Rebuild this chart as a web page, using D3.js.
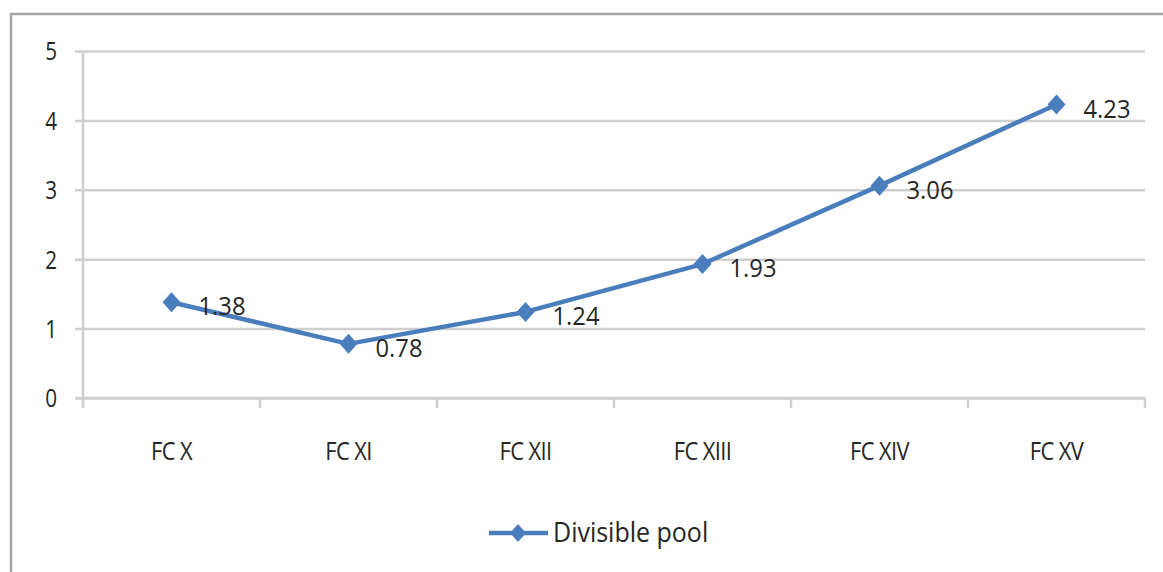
<!DOCTYPE html>
<html>
<head>
<meta charset="utf-8">
<script src="https://cdn.jsdelivr.net/npm/d3@7"></script>
<style>
  html, body { margin: 0; padding: 0; background: #fff; }
  svg { display: block; }
  text { font-family: "Open Sans", "Liberation Sans", sans-serif; fill: #262626; }
</style>
</head>
<body>
<svg id="chart" width="1163" height="572"></svg>
<script>
// Finance Commission divisible pool share
const categories = ["FC X", "FC XI", "FC XII", "FC XIII", "FC XIV", "FC XV"];
const divisiblePool = [1.38, 0.78, 1.24, 1.93, 3.06, 4.23];
const yTicks = [0, 1, 2, 3, 4, 5];
const seriesName = "Divisible pool";

const W = 1163, H = 572;
const plot = { left: 83, right: 1145, top: 51, bottom: 398 };
const lineColor = "#4a7dbc";
const gridColor = "#cfcfcf";

const svg = d3.select("#chart");

// outer chart frame (top and left edges show)
svg.append("path")
  .attr("d", `M11,${H} L11,14 L${W},14`)
  .attr("fill", "none")
  .attr("stroke", "#a6a6a6")
  .attr("stroke-width", 2.5);

const x = d3.scaleBand().domain(categories).range([plot.left, plot.right]).padding(0);
const y = d3.scaleLinear().domain([0, 5]).range([plot.bottom, plot.top]);

// horizontal gridlines with outward ticks
const yAxis = d3.axisLeft(y)
  .tickValues(yTicks)
  .tickSize(-(plot.right - plot.left))
  .tickSizeOuter(0)
  .tickFormat(d3.format("d"));

const gy = svg.append("g").attr("transform", `translate(${plot.left},0)`).call(yAxis);
gy.select(".domain").remove();
gy.selectAll(".tick line")
  .attr("x1", -8)
  .attr("stroke", gridColor)
  .attr("stroke-width", 2.5);
gy.selectAll(".tick text")
  .attr("font-size", 23)
  .attr("fill", "#262626")
  .attr("x", null)
  .attr("dy", "0.35em")
  .attr("text-anchor", "end")
  .attr("transform", "translate(-26,0) scale(0.9,1.1)");

// vertical value axis line
svg.append("line")
  .attr("x1", plot.left).attr("x2", plot.left)
  .attr("y1", plot.top).attr("y2", plot.bottom + 10)
  .attr("stroke", gridColor).attr("stroke-width", 2.5);

// category axis with ticks on the band boundaries
const boundaries = categories.map(c => x(c)).concat([plot.right]);
const gx = svg.append("g");
gx.append("line")
  .attr("x1", plot.left - 8).attr("x2", plot.right)
  .attr("y1", plot.bottom).attr("y2", plot.bottom)
  .attr("stroke", gridColor).attr("stroke-width", 2.5);
gx.selectAll("line.tk").data(boundaries).join("line")
  .attr("class", "tk")
  .attr("x1", d => d).attr("x2", d => d)
  .attr("y1", plot.bottom).attr("y2", plot.bottom + 10)
  .attr("stroke", gridColor).attr("stroke-width", 2.5);
gx.selectAll("text").data(categories).join("text")
  .attr("transform", d => `translate(${x(d) + x.bandwidth() / 2},${plot.bottom + 53}) scale(0.95,1.12)`)
  .attr("text-anchor", "middle")
  .attr("dy", "0.35em")
  .attr("font-size", 23)
  .attr("letter-spacing", -0.6)
  .text(d => d);

// series line
const pts = categories.map((c, i) => ({ c, v: divisiblePool[i] }));
const line = d3.line().x(d => x(d.c) + x.bandwidth() / 2).y(d => y(d.v));
svg.append("path")
  .datum(pts)
  .attr("d", line)
  .attr("fill", "none")
  .attr("stroke", lineColor)
  .attr("stroke-width", 4.5)
  .attr("stroke-linejoin", "round");

// diamond markers
const diamond = (cx, cy, rx, ry) => `M${cx},${cy - ry} L${cx + rx},${cy} L${cx},${cy + ry} L${cx - rx},${cy} Z`;
svg.selectAll("path.mk").data(pts).join("path")
  .attr("class", "mk")
  .attr("d", d => diamond(x(d.c) + x.bandwidth() / 2, y(d.v), 9, 10))
  .attr("fill", lineColor);

// value labels
svg.selectAll("text.val").data(pts).join("text")
  .attr("class", "val")
  .attr("transform", d => `translate(${x(d.c) + x.bandwidth() / 2 + 27},${y(d.v) + 4}) scale(0.95,1.05)`)
  .attr("dy", "0.35em")
  .attr("font-size", 25)
  .text(d => d.v.toFixed(2));

// legend
const lg = svg.append("g").attr("transform", "translate(489,533)");
lg.append("line").attr("x1", 0).attr("x2", 59).attr("y1", 0).attr("y2", 0)
  .attr("stroke", lineColor).attr("stroke-width", 4.5);
lg.append("path").attr("d", diamond(29, 0, 8, 9)).attr("fill", lineColor);
lg.append("text")
  .attr("transform", "translate(64,0) scale(1,1.08)")
  .attr("dy", "0.35em")
  .attr("font-size", 25)
  .text(seriesName);
</script>
</body>
</html>
